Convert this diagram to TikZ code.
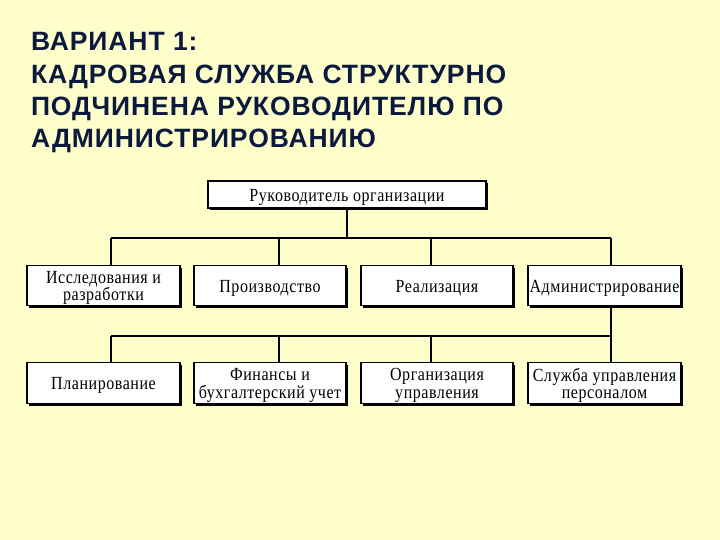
\documentclass[tikz,border=0pt]{standalone}
\usepackage{fontspec}
\setmainfont{Liberation Serif}[FakeStretch=0.865,LetterSpace=3]
\newfontfamily\titlefont{Liberation Sans}[LetterSpace=3.5]
\definecolor{bgc}{HTML}{FFFFCC}
\definecolor{titlec}{HTML}{0B1A3C}
\begin{document}
\begin{tikzpicture}[x=1pt,y=-1pt,
  orgbox/.style={draw=black,line width=1.2pt,fill=white,inner sep=0pt,align=center,
    font=\fontsize{18.5}{17.5}\selectfont,
    execute at begin node={\rule{0pt}{17pt}},
    preaction={fill=black,transform canvas={xshift=2pt,yshift=-2pt}}},
  twotext/.style={align=center,inner sep=0pt,font=\fontsize{18.5}{17.5}\selectfont,yshift=-2.5pt},
  conn/.style={line width=1.8pt,black}]
\useasboundingbox (0,0) rectangle (720,540);
\fill[bgc] (0,0) rectangle (720,540);
\node[anchor=base west,text=titlec,align=left,font=\titlefont\bfseries\fontsize{26.5}{32.4}\selectfont] (title) at (27.5,148)
  {ВАРИАНТ 1:\\КАДРОВАЯ СЛУЖБА СТРУКТУРНО\\ПОДЧИНЕНА РУКОВОДИТЕЛЮ ПО\\АДМИНИСТРИРОВАНИЮ};
% top
\node[orgbox,minimum width=278pt,minimum height=27pt] (top) at (347,194.5) {Руководитель организации};
% row 1
\node[orgbox,minimum width=153pt,minimum height=40pt,
  label={[twotext,name=r1t]center:{Исследования и\\разработки}}] (r1) at (103.5,285.5) {};
\node[orgbox,minimum width=152pt,minimum height=40pt] (r2) at (270,285.5) {Производство};
\node[orgbox,minimum width=152pt,minimum height=40pt] (r3) at (437,285.5) {Реализация};
\node[orgbox,minimum width=153pt,minimum height=40pt] (r4) at (604.5,285.5) {Администрирование};
% row 2
\node[orgbox,minimum width=153pt,minimum height=41pt] (s1) at (103.5,383) {Планирование};
\node[orgbox,minimum width=152pt,minimum height=41pt,
  label={[twotext,name=s2t]center:{Финансы и\\бухгалтерский учет}}] (s2) at (270,383) {};
\node[orgbox,minimum width=152pt,minimum height=41pt,
  label={[twotext,name=s3t]center:{Организация\\управления}}] (s3) at (437,383) {};
\node[orgbox,minimum width=153pt,minimum height=41pt,
  label={[twotext,name=s4t]center:{Служба управления\\персоналом}}] (s4) at (604.5,383) {};
% connectors
\coordinate (h1) at (347,238);
\coordinate (a1) at (111,238);
\coordinate (a4) at (611,238);
\draw[conn] (top.south) -- (h1);
\draw[conn] (a1) -- (a4);
\draw[conn] (a1) -- (111,265);
\draw[conn] (279,238) -- (279,265);
\draw[conn] (431,238) -- (431,265);
\draw[conn] (a4) -- (611,265);
\coordinate (h2) at (611,336);
\coordinate (b1) at (111,336);
\draw[conn] (611,306) -- (h2);
\draw[conn] (b1) -- (h2);
\draw[conn] (b1) -- (111,362);
\draw[conn] (279,336) -- (279,362);
\draw[conn] (431,336) -- (431,362);
\draw[conn] (h2) -- (611,362);
\end{tikzpicture}
\end{document}
